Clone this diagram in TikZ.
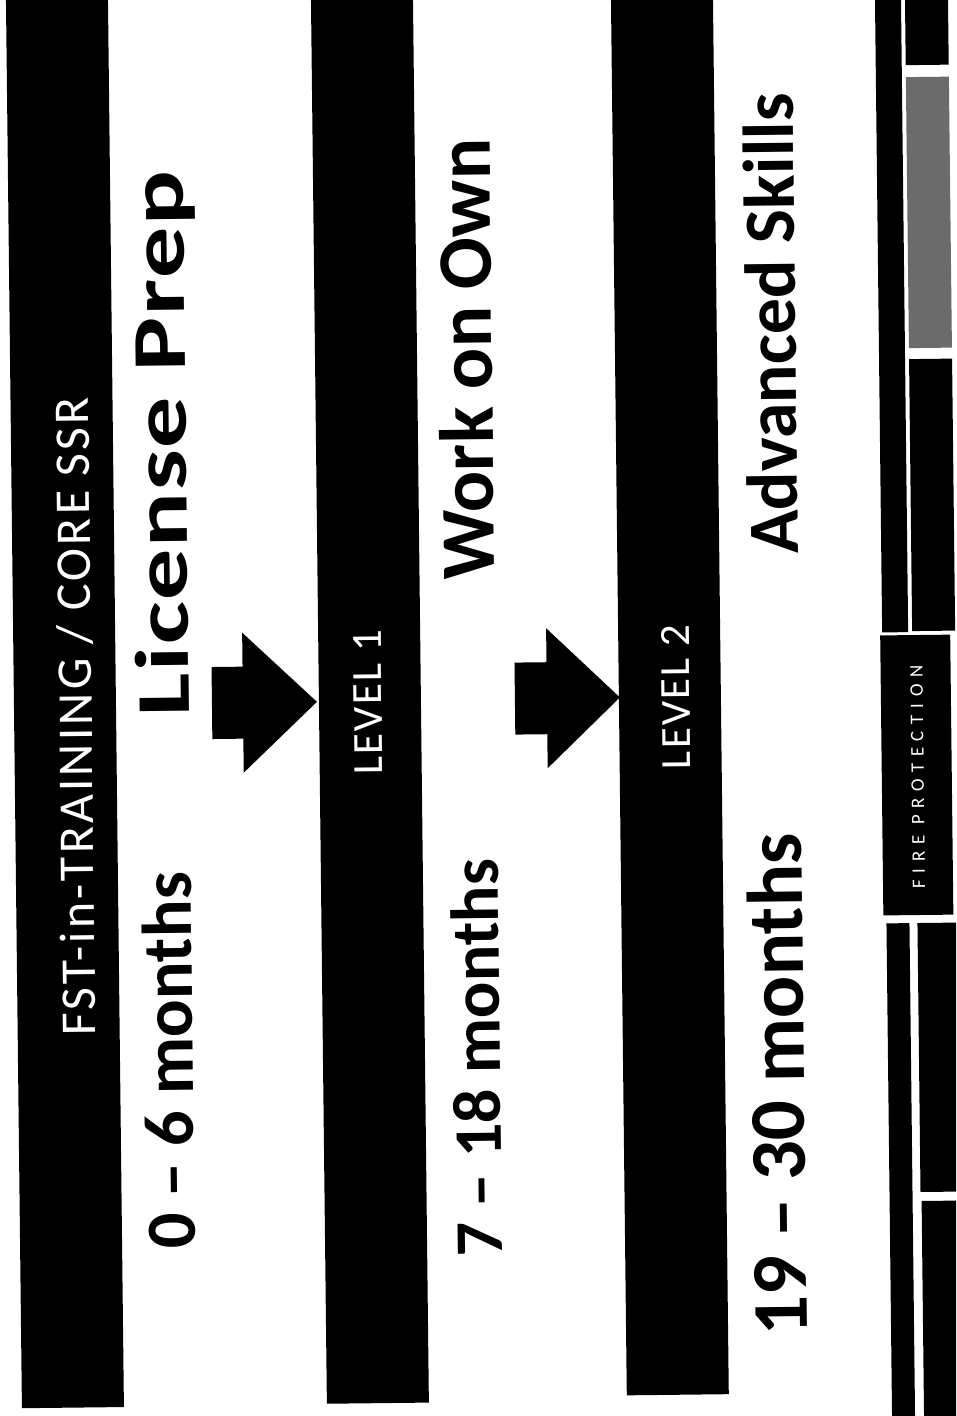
\documentclass[tikz,border=0pt]{standalone}
\usepackage{fontspec}
\setmainfont{Carlito}
\newfontfamily\spacedfont[LetterSpace=35]{Carlito}
\newfontfamily\widefont[FakeStretch=1.35,LetterSpace=2]{Carlito}
\newfontfamily\lightwide[LetterSpace=5]{Carlito}
\newfontfamily\topwide[LetterSpace=6]{Carlito}
\begin{document}
\begin{tikzpicture}[x=1pt,y=-1pt,
  bar/.style={fill=black},
  grayblock/.style={fill=black!58},
  blockarrow/.style={fill=black},
  bigtext/.style={rotate=90,anchor=base,inner sep=0pt,font=\bfseries},
  lvltext/.style={rotate=90,anchor=base,inner sep=0pt,text=white,font=\fontsize{43}{46}\lightwide},
  toptext/.style={rotate=90,anchor=base,inner sep=0pt,text=white,font=\fontsize{50}{54}\topwide},
  foottext/.style={rotate=90,anchor=base,inner sep=0pt,text=white,font=\fontsize{19}{21}\spacedfont}]
\useasboundingbox (0,0) rectangle (956,1416);
\fill[white] (0,0) rectangle (956,1416);
\begin{scope}
\clip (0,0) rectangle (956,1416);
\begin{scope}[rotate around={0.65:(478,708)},transform shape]
  % main bars
  \fill[bar] (14,-30) rectangle (116,1403);
  \fill[bar] (319,-30) rectangle (421,1402);
  \fill[bar] (619,-30) rectangle (721,1397);
  % footer strip
  \fill[bar] (883,-30) rectangle (909,637);
  \fill[bar] (913,-30) rectangle (956,70);
  \fill[grayblock] (913,82) rectangle (956,353);
  \fill[bar] (913,364) rectangle (956,636);
  \fill[bar] (881,640) rectangle (951,920);
  \fill[bar] (884,928) rectangle (907,1440);
  \fill[bar] (915,928) rectangle (970,1197);
  \fill[bar] (916,1206) rectangle (970,1440);
  % block arrows
  \fill[blockarrow] (212,664) -- (243,664) -- (243,630) -- (317,700)
     -- (243,770) -- (243,736) -- (212,736) -- cycle;
  \fill[blockarrow] (515,663) -- (547,663) -- (547,629) -- (620,699)
     -- (547,769) -- (547,735) -- (515,735) -- cycle;
  % texts
  \node[toptext] (fst) at (92,712) {FST-in-TRAINING / CORE SSR};
  \node[bigtext,font=\fontsize{70.5}{76}\selectfont\bfseries] (m06) at (189,1057) {0 – 6 months};
  \node[bigtext,font=\fontsize{76}{82}\widefont\bfseries] (lic) at (189,440) {License Prep};
  \node[lvltext] (lv1) at (382,701) {LEVEL 1};
  \node[bigtext,font=\fontsize{68}{74}\selectfont\bfseries] (m718) at (496,1058) {7 – 18 months};
  \node[bigtext,font=\fontsize{77}{82}\selectfont\bfseries] (own) at (496,359) {Work on Own};
  \node[lvltext] (lv2) at (690,699) {LEVEL 2};
  \node[bigtext,font=\fontsize{79}{85}\selectfont\bfseries] (m1930) at (800,1088) {19 – 30 months};
  \node[bigtext,font=\fontsize{72}{78}\selectfont\bfseries] (adv) at (800,327) {Advanced Skills};
  \node[foottext] (fire) at (923,782) {FIRE PROTECTION};
\end{scope}
\end{scope}
\end{tikzpicture}
\end{document}
